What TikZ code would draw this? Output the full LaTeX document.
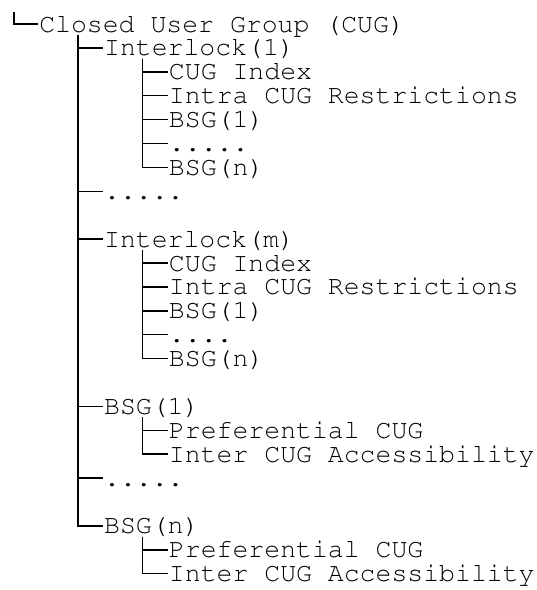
\documentclass[tikz,border=0pt]{standalone}
\usepackage[T1,TU]{fontenc}
\usepackage{courier}
\usetikzlibrary{trees}
\begin{document}
\begin{tikzpicture}[
x=1pt,y=1pt,
line width=1.5pt,
every node/.style={anchor=west,inner sep=0pt,text height=16pt,text depth=0pt,
	font=\fontencoding{T1}\ttfamily\fontsize{26.5}{24}\selectfont,
	execute at begin node={\hbox to 0pt\bgroup},
	execute at end node={\hss\egroup}},
grow via three points={one child at (63.6,-23.9) and two children at (63.6,-23.9) and (63.6,-47.8)},
edge from parent path={([xshift=39.75pt,yshift=-2pt]\tikzparentnode.south west) |- (\tikzchildnode.west)}
]
\useasboundingbox (0,0) rectangle (537,-590);
\node (cug) at (38,-24) {Closed User Group (CUG)}
child{
	node (il1) {Interlock(1)}
	child{node (il1idx) {CUG Index}}
	child{node (il1intra) {Intra CUG Restrictions}}
	child{node (il1bsg1) {BSG(1)}}
	child{node (il1dots) {.....}}
	child{node (il1bsgn) {BSG(n)}}
}
child[missing]{}
child[missing]{}
child[missing]{}
child[missing]{}
child[missing]{}
child{node (dots1) {.....}}
child[missing]{}
child{
	node (ilm) {Interlock(m)}
	child{node (ilmidx) {CUG Index}}
	child{node (ilmintra) {Intra CUG Restrictions}}
	child{node (ilmbsg1) {BSG(1)}}
	child{node (ilmdots) {....}}
	child{node (ilmbsgn) {BSG(n)}}
}
child[missing]{}
child[missing]{}
child[missing]{}
child[missing]{}
child[missing]{}
child[missing]{}
child{
	node (bsg1) {BSG(1)}
	child{node (bsg1pref) {Preferential CUG}}
	child{node (bsg1acc) {Inter CUG Accessibility}}
}
child[missing]{}
child[missing]{}
child{node (dots2) {.....}}
child[missing]{}
child{
	node (bsgn) {BSG(n)}
	child{node (bsgnpref) {Preferential CUG}}
	child{node (bsgnacc) {Inter CUG Accessibility}}
};
\coordinate (top) at (14.1,-12);
\draw (top) |- (cug.west);
\end{tikzpicture}
\end{document}
